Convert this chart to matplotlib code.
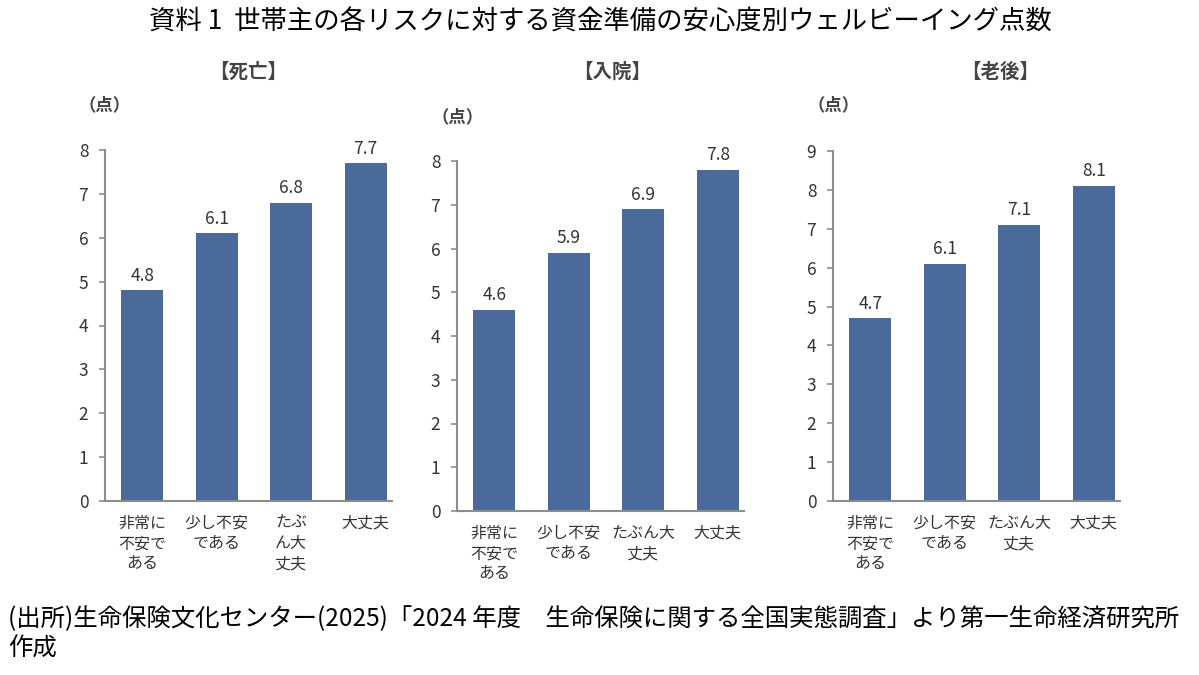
import matplotlib
matplotlib.use("Agg")
import matplotlib.pyplot as plt

plt.rcParams['font.family'] = ['Noto Sans CJK JP', 'DejaVu Sans']

title = "資料 1  世帯主の各リスクに対する資金準備の安心度別ウェルビーイング点数"
panel_titles = ["【死亡】", "【入院】", "【老後】"]
unit_label = "（点）"
cats_death = ["非常に\n不安で\nある", "少し不安\nである", "たぶ\nん大\n丈夫", "大丈夫"]
cats_other = ["非常に\n不安で\nある", "少し不安\nである", "たぶん大\n丈夫", "大丈夫"]
death = [4.8, 6.1, 6.8, 7.7]
hospital = [4.6, 5.9, 6.9, 7.8]
retire = [4.7, 6.1, 7.1, 8.1]
ymax = [8, 8, 9]
source_line1 = "(出所)生命保険文化センター(2025)「2024 年度　生命保険に関する全国実態調査」より第一生命経済研究所"
source_line2 = "作成"

W, H = 1199, 675
fig = plt.figure(figsize=(W / 100, H / 100), dpi=100)

bar_color = "#4a6a9b"
text_color = "#333333"
spine_color = "#8c8c8c"

# axes in pixel coords: left, y of zero, y of top
layout = [
    (105, 501, 150),
    (457, 511, 161),
    (833, 501, 151),
]
spacing = 74.5
series = [death, hospital, retire]
cats_list = [cats_death, cats_other, cats_other]
ptitle_x = [248, 612, 1000]
unit_pos = [(105, 105), (458, 117), (834, 105)]

for i in range(3):
    left, y0, ytop = layout[i]
    xr = 3.85
    width_px = xr * spacing
    ax = fig.add_axes([left / W, 1 - y0 / H, width_px / W, (y0 - ytop) / H])
    x = range(4)
    ax.bar(x, series[i], width=0.57, color=bar_color, zorder=2)
    ax.set_xlim(-0.5, 3.35)
    ax.set_ylim(0, ymax[i])
    ax.set_yticks(range(0, ymax[i] + 1))
    ax.set_xticks(list(x))
    ax.set_xticklabels(cats_list[i], fontsize=11.5, color=text_color, linespacing=1.25, va='top')
    ax.tick_params(axis='x', length=0, pad=10)
    ax.tick_params(axis='y', length=4, width=1.2, color=spine_color, labelsize=12.5, labelcolor=text_color, pad=8)
    for s in ['top', 'right']:
        ax.spines[s].set_visible(False)
    for s in ['left', 'bottom']:
        ax.spines[s].set_color(spine_color)
        ax.spines[s].set_linewidth(1.5)
    for xi, v in zip(x, series[i]):
        ax.annotate(f"{v:.1f}", (xi, v), xytext=(0, 4), textcoords='offset points',
                    ha='center', va='bottom', fontsize=12.5, color=text_color)
    fig.text(ptitle_x[i] / W, 1 - 72 / H, panel_titles[i], ha='center', va='center',
             fontsize=14, fontweight='bold', color='#444444')
    ux, uy = unit_pos[i]
    fig.text(ux / W, 1 - uy / H, unit_label, ha='center', va='center', fontsize=12.5,
             fontweight='bold', color='#444444')

fig.text(600 / W, 1 - 22 / H, title, ha='center', va='center', fontsize=19, color='black')
fig.text(8 / W, 1 - 619 / H, source_line1, ha='left', va='center', fontsize=17.6, color='black')
fig.text(8 / W, 1 - 649 / H, source_line2, ha='left', va='center', fontsize=17.6, color='black')

fig.savefig("out.png", dpi=100, facecolor='white')
